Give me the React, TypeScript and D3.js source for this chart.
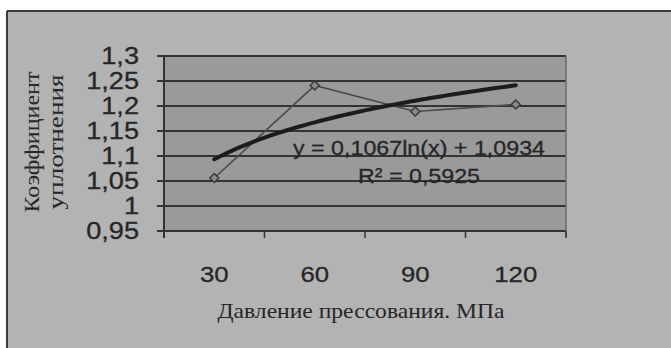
import React from "react";
import * as d3 from "d3";

const categories = ["30", "60", "90", "120"];
const values = [1.056, 1.241, 1.189, 1.203];
const yTicks = [0.95, 1, 1.05, 1.1, 1.15, 1.2, 1.25, 1.3];
const trendCoefA = 0.1067;
const trendCoefB = 1.0934;
const equationLabel = "y = 0,1067ln(x) + 1,0934";
const r2Label = "R² = 0,5925";
const yTitleLines = ["Коэффициент", "уплотнения"];
const xTitle = "Давление прессования. МПа";

const W = 671;
const H = 348;
const plot = { left: 164, right: 566, top: 56, bottom: 231 };

export default function App() {
  const x = d3.scaleBand<string>().domain(categories).range([plot.left, plot.right]);
  const xc = (i: number) => (x(categories[0]) as number) + x.bandwidth() * (i + 0.5);
  const y = d3.scaleLinear().domain([0.95, 1.3]).range([plot.bottom, plot.top]);
  const fmt = (v: number) => String(+v.toFixed(2)).replace(".", ",");

  const dataLine = d3
    .line<number>()
    .x((_, i) => xc(i))
    .y((d) => y(d))(values) as string;

  const trendXs = d3.range(1, 4.0001, 0.05);
  const trendLine = d3
    .line<number>()
    .x((t) => xc(t - 1))
    .y((t) => y(trendCoefA * Math.log(t) + trendCoefB))(trendXs) as string;

  const tickXs = [...categories.map((c) => x(c) as number), plot.right];
  const sans = "'Liberation Sans', Arial, sans-serif";
  const serif = "'Liberation Serif', 'Times New Roman', serif";
  const ink = "#262626";

  return (
    <svg
      width={W}
      height={H}
      style={{ position: "absolute", left: 0, top: 0, background: "#fff" }}
    >
      <rect x={7} y={11} width={W - 7} height={H - 11} fill="#b3b3b3" />
      <line x1={7} y1={11} x2={W} y2={11} stroke="#3a3a3a" strokeWidth={2} />
      <line x1={7} y1={11} x2={7} y2={H} stroke="#3a3a3a" strokeWidth={2} />

      <rect
        x={plot.left}
        y={plot.top}
        width={plot.right - plot.left}
        height={plot.bottom - plot.top}
        fill="#9a9a9a"
      />
      {yTicks.map((t) => (
        <g key={t}>
          <line
            x1={plot.left - 7}
            x2={plot.right}
            y1={y(t)}
            y2={y(t)}
            stroke="#333"
            strokeWidth={2}
          />
          <text
            transform={`translate(139,${y(t)}) scale(1.18,1)`}
            textAnchor="end"
            dominantBaseline="central"
            fontFamily={sans}
            fontSize={23}
            fill={ink}
            stroke={ink}
            strokeWidth={0.3}
          >
            {fmt(t)}
          </text>
        </g>
      ))}
      <line x1={plot.left} x2={plot.left} y1={plot.top} y2={plot.bottom + 7} stroke="#333" strokeWidth={2} />
      <line x1={plot.right} x2={plot.right} y1={plot.top} y2={plot.bottom + 7} stroke="#6a6a6a" strokeWidth={1.5} />
      {tickXs.map((tx, i) => (
        <line key={i} x1={tx} x2={tx} y1={plot.bottom} y2={plot.bottom + 7} stroke="#333" strokeWidth={1.5} />
      ))}
      {categories.map((c, i) => (
        <text
          key={c}
          transform={`translate(${xc(i)},282) scale(1.12,1)`}
          textAnchor="middle"
          fontFamily={sans}
          fontSize={23}
          fill={ink}
          stroke={ink}
          strokeWidth={0.3}
        >
          {c}
        </text>
      ))}

      <path d={dataLine} fill="none" stroke="#4a4a4a" strokeWidth={1.6} />
      {values.map((v, i) => {
        const cx = xc(i);
        const cy = y(v);
        const s = 4.5;
        return (
          <path
            key={i}
            d={`M${cx},${cy - s}L${cx + s},${cy}L${cx},${cy + s}L${cx - s},${cy}Z`}
            fill="#8a8a8a"
            stroke="#3a3a3a"
            strokeWidth={1.5}
          />
        );
      })}
      <path d={trendLine} fill="none" stroke="#1c1c1c" strokeWidth={4} strokeLinecap="round" />

      <text x={419} y={155} textAnchor="middle" fontFamily={sans} fontSize={21} fill={ink} stroke={ink} strokeWidth={0.3} textLength={252} lengthAdjust="spacingAndGlyphs">
        {equationLabel}
      </text>
      <text x={419} y={183} textAnchor="middle" fontFamily={sans} fontSize={21} fill={ink} stroke={ink} strokeWidth={0.3} textLength={122} lengthAdjust="spacingAndGlyphs">
        {r2Label}
      </text>

      {yTitleLines.map((l, i) => (
        <text
          key={l}
          transform={`translate(${39 + i * 24},142) rotate(-90)`}
          textAnchor="middle"
          fontFamily={serif}
          fontSize={21}
          fill={ink}
          textLength={i === 0 ? 141 : 135}
          lengthAdjust="spacingAndGlyphs"
        >
          {l}
        </text>
      ))}
      <text
        x={361}
        y={318}
        textAnchor="middle"
        fontFamily={serif}
        fontSize={22}
        fill={ink}
        textLength={287}
        lengthAdjust="spacingAndGlyphs"
      >
        {xTitle}
      </text>
    </svg>
  );
}
